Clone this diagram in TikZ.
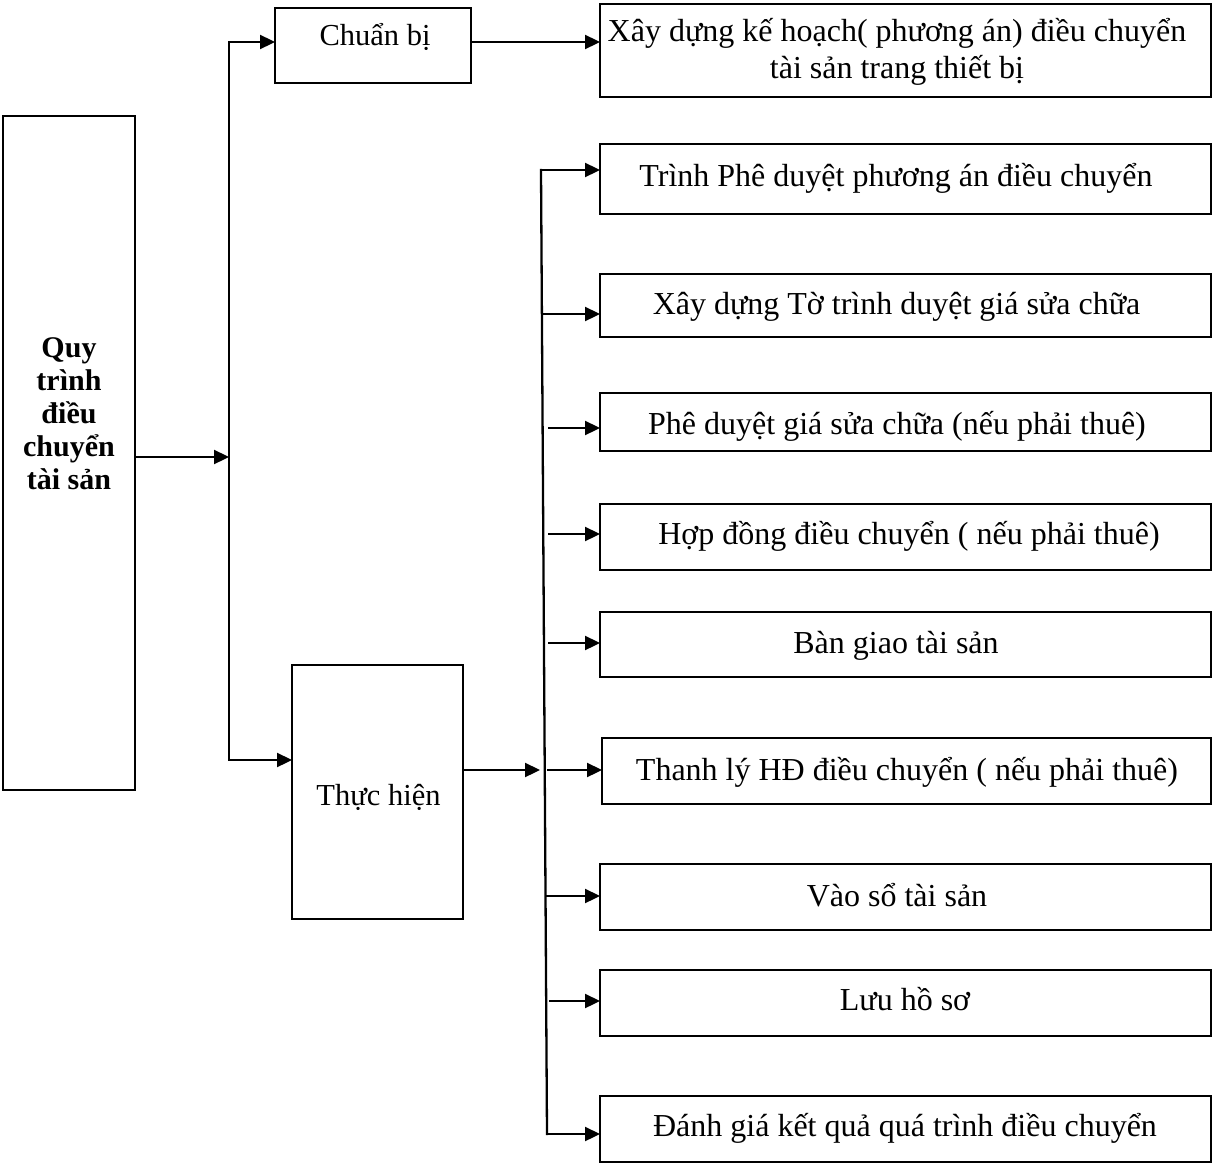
\documentclass[tikz,border=0pt]{standalone}
\usepackage{fontspec}
\setmainfont{Liberation Serif}
\usetikzlibrary{arrows.meta,calc}
\tikzset{
  box/.style={draw, line width=2pt, rectangle, inner sep=0pt, outer sep=0pt},
  lbl/.style={font=\fontsize{32}{35}\selectfont, inner sep=0pt, anchor=base},
  lbls/.style={font=\fontsize{30.5}{33}\selectfont, inner sep=0pt, anchor=base},
  arr/.style={line width=2.3pt, -{Triangle[length=15pt,width=14pt]}},
  ln/.style={line width=2.3pt}
}
\begin{document}
\begin{tikzpicture}[x=1pt,y=-1pt]
\useasboundingbox (0,0) rectangle (1213,1164);
% boxes
\node[box, minimum width=132pt, minimum height=674pt] (main) at (69,453) {};
\node[box, minimum width=196pt, minimum height=75pt] (chuan) at (373,45.5) {};
\node[box, minimum width=171pt, minimum height=254pt] (thuc) at (377.5,792) {};
\node[box, minimum width=611pt, minimum height=93pt] (kh) at (905.5,50.5) {};
\node[box, minimum width=611pt, minimum height=70pt] (r1) at (905.5,179) {};
\node[box, minimum width=611pt, minimum height=63pt] (r2) at (905.5,305.5) {};
\node[box, minimum width=611pt, minimum height=58pt] (r3) at (905.5,422) {};
\node[box, minimum width=611pt, minimum height=66pt] (r4) at (905.5,537) {};
\node[box, minimum width=611pt, minimum height=65pt] (r5) at (905.5,644.5) {};
\node[box, minimum width=609pt, minimum height=66pt] (r6) at (906.5,771) {};
\node[box, minimum width=611pt, minimum height=66pt] (r7) at (905.5,897) {};
\node[box, minimum width=611pt, minimum height=66pt] (r8) at (905.5,1003) {};
\node[box, minimum width=611pt, minimum height=66pt] (r9) at (905.5,1129) {};
% texts
\node[lbls, anchor=center, align=center, font=\fontsize{30}{33}\selectfont\bfseries] (tmain) at (69,414) {Quy\\trình\\điều\\chuyển\\tài sản};
\node[lbls] (tchuan) at (375,46) {Chuẩn bị};
\node[lbls] (tthuc) at (378.5,805) {Thực hiện};
\node[lbl, anchor=center, align=center, font=\fontsize{32}{37}\selectfont] (tkh) at (897,52) {Xây dựng kế hoạch( phương án) điều chuyển\\tài sản trang thiết bị};
\node[lbl] (t1) at (896,186) {Trình Phê duyệt phương án điều chuyển};
\node[lbl] (t2) at (896.5,314) {Xây dựng Tờ trình duyệt giá sửa chữa};
\node[lbl] (t3) at (897,434) {Phê duyệt giá sửa chữa (nếu phải thuê)};
\node[lbl] (t4) at (909,544) {Hợp đồng điều chuyển ( nếu phải thuê)};
\node[lbl] (t5) at (896,653) {Bàn giao tài sản};
\node[lbl] (t6) at (907,780) {Thanh lý HĐ điều chuyển ( nếu phải thuê)};
\node[lbl] (t7) at (897,906) {Vào sổ tài sản};
\node[lbl] (t8) at (905,1010) {Lưu hồ sơ};
\node[lbl] (t9) at (905,1136) {Đánh giá kết quả quá trình điều chuyển};
% junction coordinates
\coordinate (va) at (229,42);
\coordinate (vb) at (229,760);
\coordinate (vm) at (229,457);
\coordinate (ja) at (540,770);
\coordinate (wt) at (541,170);
\coordinate (wb) at (547,1134);
\coordinate (s2) at (542,314);
\coordinate (s3) at (548,428);
\coordinate (s4) at (548,534);
\coordinate (s5) at (548,643);
\coordinate (s6) at (547,770);
\coordinate (s7) at (546,896);
\coordinate (s8) at (549,1001);
% connectors
\draw[ln, line cap=rect] (va) -- (vb);
\draw[arr] (main.east |- vm) -- (vm);
\draw[arr] (va) -- (va -| chuan.west);
\draw[arr] (vb) -- (vb -| thuc.west);
\draw[arr] (chuan.east |- va) -- (kh.west |- va);
\draw[arr] (thuc.east |- ja) -- (ja);
\draw[ln, line cap=rect] (wt) -- (wb);
\draw[arr] (wt) -- (wt -| r1.west);
\draw[arr] (s2) -- (s2 -| r2.west);
\draw[arr] (s3) -- (s3 -| r3.west);
\draw[arr] (s4) -- (s4 -| r4.west);
\draw[arr] (s5) -- (s5 -| r5.west);
\draw[arr] (s6) -- (s6 -| r6.west);
\draw[arr] (s7) -- (s7 -| r7.west);
\draw[arr] (s8) -- (s8 -| r8.west);
\draw[arr] (wb) -- (wb -| r9.west);
\end{tikzpicture}
\end{document}
